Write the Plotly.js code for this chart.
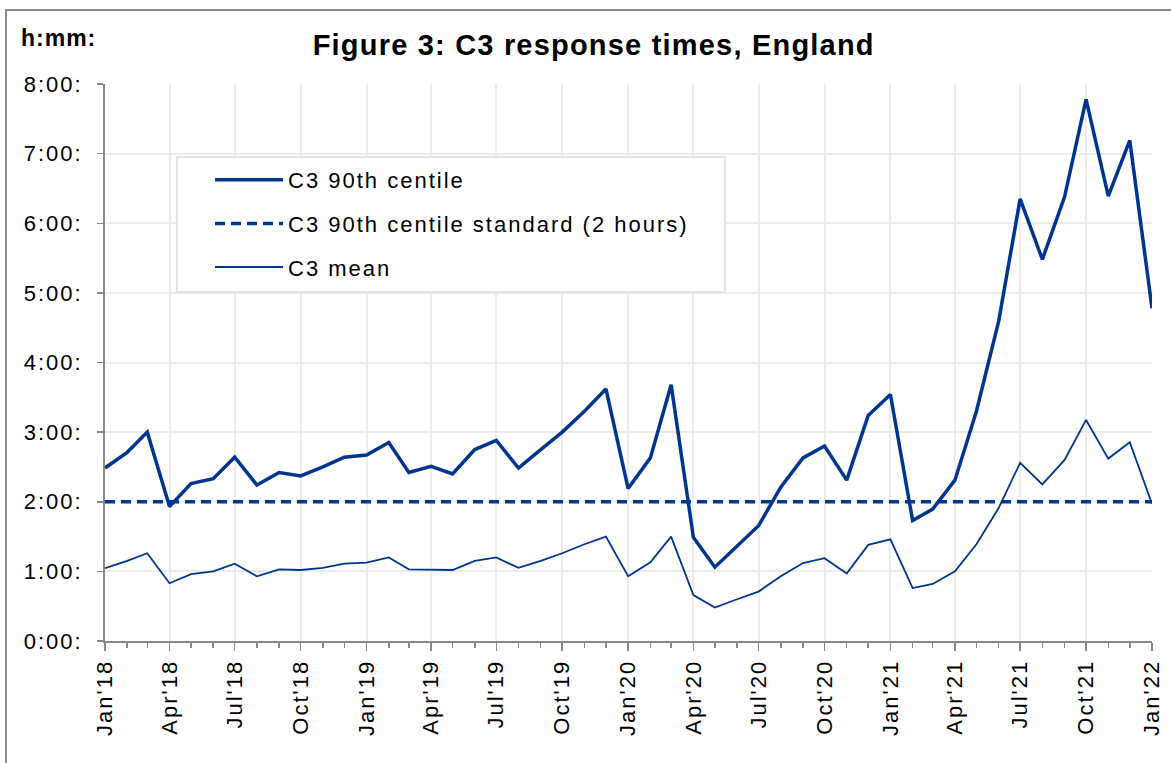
<!DOCTYPE html>
<html>
<head>
<meta charset="utf-8">
<script src="https://cdn.plot.ly/plotly-3.0.1.min.js"></script>
<style>
  html, body { margin: 0; padding: 0; background: #fff; }
  #chart { width: 1171px; height: 763px; }
  svg text { letter-spacing: 2px; }
  svg text.gtitle { letter-spacing: 1.2px; }
  svg .annotation-text { letter-spacing: 1px; }
</style>
</head>
<body>
<div id="chart"></div>
<script>
// Months (first day of each month)
const months = [
  "2018-01-01","2018-02-01","2018-03-01","2018-04-01","2018-05-01","2018-06-01","2018-07-01","2018-08-01","2018-09-01","2018-10-01","2018-11-01","2018-12-01",
  "2019-01-01","2019-02-01","2019-03-01","2019-04-01","2019-05-01","2019-06-01","2019-07-01","2019-08-01","2019-09-01","2019-10-01","2019-11-01","2019-12-01",
  "2020-01-01","2020-02-01","2020-03-01","2020-04-01","2020-05-01","2020-06-01","2020-07-01","2020-08-01","2020-09-01","2020-10-01","2020-11-01","2020-12-01",
  "2021-01-01","2021-02-01","2021-03-01","2021-04-01","2021-05-01","2021-06-01","2021-07-01","2021-08-01","2021-09-01","2021-10-01","2021-11-01","2021-12-01",
  "2022-01-01"
];

// C3 90th centile (hours)
const c3Centile90 = [
  2.485, 2.71, 3.00, 1.93, 2.26, 2.33, 2.64, 2.24, 2.42, 2.37, 2.50, 2.64,
  2.67, 2.85, 2.42, 2.51, 2.40, 2.75, 2.88, 2.485, 2.75, 3.00, 3.30, 3.62,
  2.19, 2.63, 3.68, 1.49, 1.06, 1.36, 1.655, 2.21, 2.63, 2.80, 2.31, 3.24,
  3.54, 1.73, 1.895, 2.31, 3.30, 4.59, 6.35, 5.48, 6.38, 7.78, 6.39, 7.19,
  4.78
];

// C3 90th centile standard (hours)
const c3Standard = [
  2, 2, 2, 2, 2, 2, 2, 2, 2, 2, 2, 2,
  2, 2, 2, 2, 2, 2, 2, 2, 2, 2, 2, 2,
  2, 2, 2, 2, 2, 2, 2, 2, 2, 2, 2, 2,
  2, 2, 2, 2, 2, 2, 2, 2, 2, 2, 2, 2,
  2
];

// C3 mean (hours)
const c3Mean = [
  1.045, 1.15, 1.26, 0.83, 0.96, 1.00, 1.11, 0.93, 1.03, 1.02, 1.05, 1.11,
  1.125, 1.20, 1.03, 1.03, 1.02, 1.15, 1.20, 1.05, 1.15, 1.26, 1.39, 1.50,
  0.93, 1.13, 1.50, 0.66, 0.48, 0.60, 0.71, 0.93, 1.12, 1.19, 0.97, 1.38,
  1.46, 0.76, 0.82, 1.00, 1.39, 1.91, 2.56, 2.25, 2.60, 3.175, 2.62, 2.855,
  1.97
];

const yTickVals = [0, 1, 2, 3, 4, 5, 6, 7, 8];
const yTickText = ["0:00:", "1:00:", "2:00:", "3:00:", "4:00:", "5:00:", "6:00:", "7:00:", "8:00:"];

const seriesNames = ["C3 90th centile", "C3 90th centile standard (2 hours)", "C3 mean"];

const BLUE = "#00358f";
const FONT = "Liberation Sans, Arial, sans-serif";

const traces = [
  { x: months, y: c3Centile90, name: seriesNames[0], type: "scatter", mode: "lines",
    line: { color: BLUE, width: 3.5 }, legendgroup: "a" },
  { x: months, y: c3Standard, name: seriesNames[1], type: "scatter", mode: "lines",
    line: { color: BLUE, width: 3.5, dash: "10px,6px" }, legendgroup: "b" },
  { x: months, y: c3Mean, name: seriesNames[2], type: "scatter", mode: "lines",
    line: { color: BLUE, width: 1.8 }, legendgroup: "c" }
];

const px = v => (v - 105) / 1047;
const py = v => (641 - v) / 557;

const layout = {
  width: 1171, height: 763,
  margin: { l: 105, r: 19, t: 84, b: 122 },
  paper_bgcolor: "#fff", plot_bgcolor: "#fff",
  font: { family: FONT, size: 22, color: "#000" },
  title: {
    text: "<b>Figure 3: C3 response times, England</b>",
    font: { family: FONT, size: 29, color: "#000" },
    xref: "container", x: 0.507, xanchor: "center",
    yref: "container", y: 1 - 45 / 763, yanchor: "middle"
  },
  xaxis: {
    type: "date",
    range: ["2018-01-01", "2022-01-01"],
    tick0: "2018-01-01", dtick: "M3",
    tickformat: "%b'%y",
    tickangle: -90,
    ticks: "outside", ticklen: 8, tickwidth: 1.5, tickcolor: "#888",
    showline: true, linecolor: "#888", linewidth: 2,
    showgrid: true, gridcolor: "#ececec", gridwidth: 2,
    zeroline: false,
    tickfont: { family: FONT, size: 22, color: "#000" },
    minor: { dtick: "M1", tick0: "2018-01-01", ticks: "outside", ticklen: 5, tickwidth: 1.5, tickcolor: "#888", showgrid: false }
  },
  yaxis: {
    range: [0, 8],
    tickvals: yTickVals, ticktext: yTickText,
    ticks: "outside", ticklen: 6, tickwidth: 1.5, tickcolor: "#888",
    ticklabelstandoff: 10,
    showline: true, linecolor: "#888", linewidth: 2,
    showgrid: true, gridcolor: "#ececec", gridwidth: 2,
    zeroline: false,
    tickfont: { family: FONT, size: 22, color: "#000" }
  },
  showlegend: true,
  legend: {
    x: px(210), xanchor: "left",
    y: py(159), yanchor: "top",
    bgcolor: "rgba(0,0,0,0)", borderwidth: 0,
    font: { family: FONT, size: 22, color: "#000" },
    traceorder: "grouped", tracegroupgap: 12,
    itemwidth: 68
  },
  shapes: [
    { type: "rect", xref: "paper", yref: "paper",
      x0: px(6), x1: px(1178), y0: py(772), y1: py(10),
      line: { color: "#8c8c8c", width: 2 }, fillcolor: "rgba(0,0,0,0)", layer: "below" },
    { type: "rect", xref: "paper", yref: "paper",
      x0: px(177), x1: px(725), y0: py(292), y1: py(157),
      line: { color: "#dcdcdc", width: 1.5 }, fillcolor: "#fff", layer: "above" }
  ],
  annotations: [
    { text: "<b>h:mm:</b>", xref: "paper", yref: "paper",
      x: px(19), xanchor: "left", y: py(38), yanchor: "middle",
      showarrow: false, font: { family: FONT, size: 23, color: "#000" } }
  ]
};

Plotly.newPlot("chart", traces, layout, { staticPlot: true, displayModeBar: false });
</script>
</body>
</html>
